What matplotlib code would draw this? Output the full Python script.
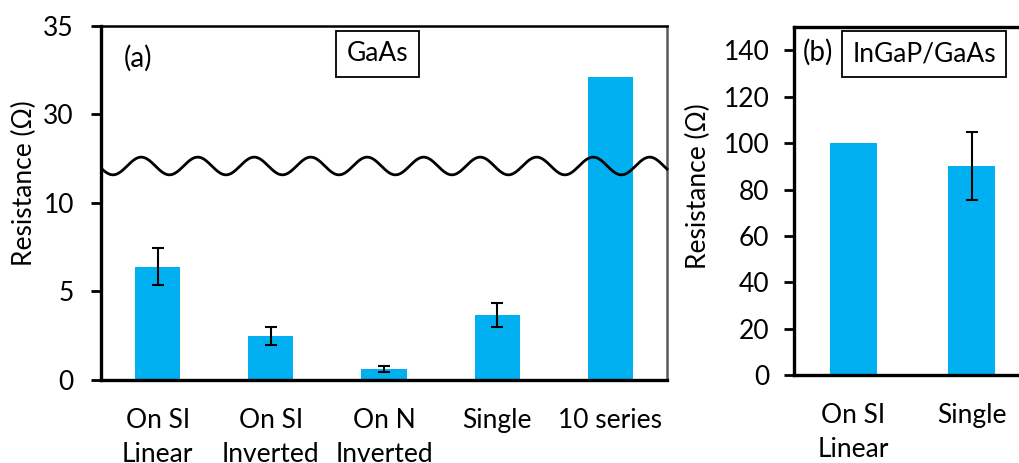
import numpy as np
import matplotlib
matplotlib.use("Agg")
import matplotlib.pyplot as plt

plt.rcParams['font.family'] = ['Lato', 'DejaVu Sans']

# (a) GaAs
cats_a = ["On SI\nLinear", "On SI\nInverted", "On N\nInverted", "Single", "10 series"]
vals_a = [6.4, 2.5, 0.6, 3.65, 32.1]
errs_a = [1.03, 0.52, 0.17, 0.68, None]
yticks_a = [0, 5, 10, 30, 35]

# (b) InGaP/GaAs
cats_b = ["On SI\nLinear", "Single"]
vals_b = [100, 90]
errs_b = [None, 14.7]
yticks_b = [0, 20, 40, 60, 80, 100, 120, 140]

BAR = "#00B0F0"
FS = 19


def fwd(v):
    v = np.asarray(v, dtype=float)
    return np.where(v <= 10, v / 5, np.where(v >= 30, 3 + (v - 30) / 5, 2 + (v - 10) / 20))


def inv(d):
    d = np.asarray(d, dtype=float)
    return np.where(d <= 2, d * 5, np.where(d >= 3, 30 + (d - 3) * 5, 10 + (d - 2) * 20))


fig = plt.figure(figsize=(10.19, 4.63), dpi=100)

# ---------- panel (a) ----------
ax = fig.add_axes([0.0991, 0.1793, 0.5555, 0.7646])
ax.set_yscale('function', functions=(fwd, inv))
xa = np.arange(len(cats_a))
ax.bar(xa, vals_a, width=0.4, color=BAR, zorder=2)
for x, v, e in zip(xa, vals_a, errs_a):
    if e is not None:
        ax.errorbar(x, v, yerr=e, fmt='none', ecolor='black', elinewidth=1.5,
                    capsize=4.5, capthick=1.5, zorder=3)
ax.set_xlim(-0.5, len(cats_a) - 0.5)
ax.set_ylim(0, 35)
ax.set_yticks(yticks_a)
ax.set_yticklabels([str(t) for t in yticks_a])
ax.yaxis.set_minor_locator(matplotlib.ticker.NullLocator())
ax.set_xticks(xa)
ax.set_xticklabels(cats_a, linespacing=1.45)
ax.tick_params(axis='x', length=0, pad=20, labelsize=FS)
ax.tick_params(axis='y', length=7.5, width=2, direction='out', pad=12, labelsize=FS)
for s in ('left', 'bottom'):
    ax.spines[s].set_linewidth(2.4)
ax.spines['top'].set_linewidth(1.8)
ax.spines['right'].set_linewidth(1.8)
ax.spines['right'].set_color('#595959')
ax.set_ylabel("Resistance (Ω)", fontsize=FS)
ax.yaxis.set_label_coords(-0.136, 0.556)
ax.yaxis.label.set_verticalalignment('center')

# axis-break wave
t = np.linspace(0.003, 1.0, 800)
wave = 0.6045 - 0.025 * np.cos(2 * np.pi * (t - 0.0212) / 0.0998)
ax.plot(t, wave, color='black', lw=2.0, transform=ax.transAxes, zorder=4, clip_on=False)

ax.text(0.065, 0.91, "(a)", transform=ax.transAxes, ha='center', va='center', fontsize=20)
ax.text(0.489, 0.922, "GaAs", transform=ax.transAxes, ha='center', va='center', fontsize=FS,
        bbox=dict(boxstyle='square,pad=0.4', fc='white', ec='black', lw=1.3))

# ---------- panel (b) ----------
bx = fig.add_axes([0.7795, 0.190, 0.232, 0.751])
xb = np.arange(len(cats_b))
bx.bar(xb, vals_b, width=0.4, color=BAR, zorder=2)
for x, v, e in zip(xb, vals_b, errs_b):
    if e is not None:
        bx.errorbar(x, v, yerr=e, fmt='none', ecolor='black', elinewidth=1.5,
                    capsize=4.5, capthick=1.5, zorder=3)
bx.set_xlim(-0.5, len(cats_b) - 0.5)
bx.set_ylim(0, 150)
bx.set_yticks(yticks_b)
bx.set_xticks(xb)
bx.set_xticklabels(cats_b, linespacing=1.45)
bx.tick_params(axis='x', length=0, pad=20, labelsize=FS)
bx.tick_params(axis='y', length=7, width=2, direction='out', pad=11, labelsize=FS)
for s in ('left', 'bottom', 'top'):
    bx.spines[s].set_linewidth(2.4)
bx.spines['right'].set_visible(False)
bx.set_ylabel("Resistance (Ω)", fontsize=FS)
bx.yaxis.set_label_coords(-0.406, 0.544)
bx.yaxis.label.set_verticalalignment('center')

bx.text(0.100, 0.929, "(b)", transform=bx.transAxes, ha='center', va='center', fontsize=20)
bx.text(0.549, 0.923, "InGaP/GaAs", transform=bx.transAxes, ha='center', va='center', fontsize=FS,
        bbox=dict(boxstyle='square,pad=0.4', fc='white', ec='black', lw=1.3))

fig.savefig("out.png", dpi=100)
